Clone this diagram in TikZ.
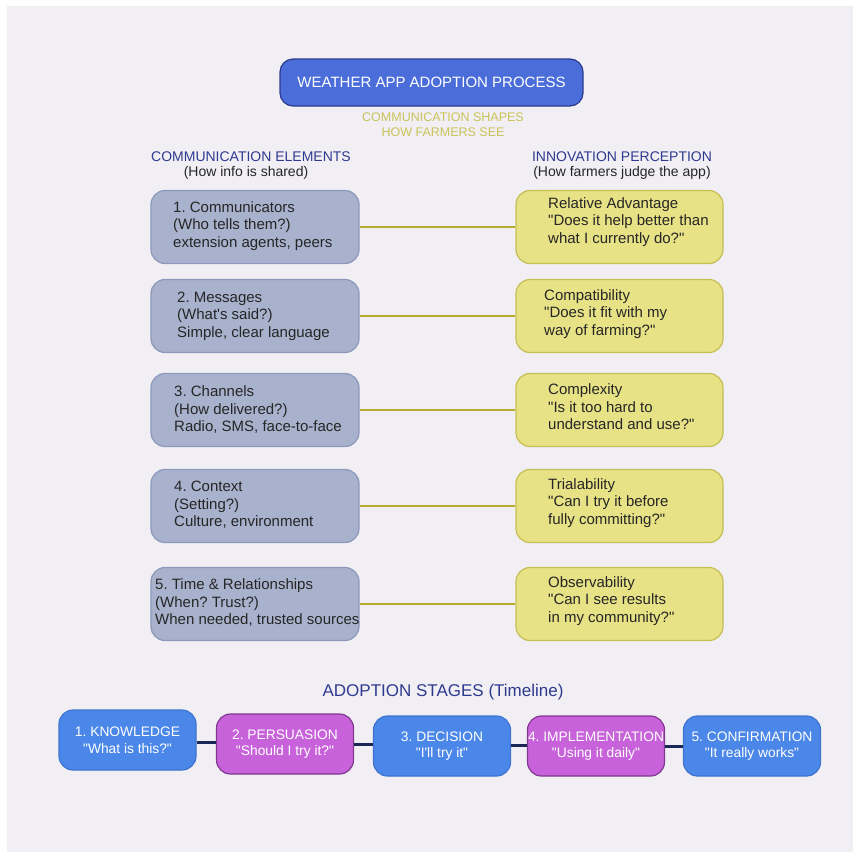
\documentclass[tikz,border=0pt]{standalone}
\usepackage{fontspec}
\setmainfont{Liberation Sans}[Ligatures=TeXOff]
\definecolor{bgc}{HTML}{F1EFF4}
\definecolor{titlefill}{HTML}{4A6DDA}
\definecolor{titleborder}{HTML}{2B3C8E}
\definecolor{yeltext}{HTML}{C9C35A}
\definecolor{navyhead}{HTML}{2E3A8F}
\definecolor{leftfill}{HTML}{A8B2CC}
\definecolor{leftborder}{HTML}{8C98BC}
\definecolor{rightfill}{HTML}{E7E286}
\definecolor{rightborder}{HTML}{C5BE52}
\definecolor{connc}{HTML}{B3AC2C}
\definecolor{stblue}{HTML}{4A87E8}
\definecolor{stblueb}{HTML}{3E74CF}
\definecolor{stmag}{HTML}{C862DA}
\definecolor{stmagb}{HTML}{7F3A8F}
\definecolor{stconn}{HTML}{1B2556}
\begin{document}
\frenchspacing
\begin{tikzpicture}[x=1pt,y=-1pt,
  leftbox/.style={draw=leftborder,fill=leftfill,line width=1.2pt,rounded corners=14pt,minimum width=208pt,minimum height=73pt,inner sep=0pt},
  rightbox/.style={draw=rightborder,fill=rightfill,line width=1.2pt,rounded corners=14pt,minimum width=207pt,minimum height=73pt,inner sep=0pt},
  boxtext/.style={anchor=west,align=left,inner sep=0pt,font=\fontsize{15}{17.5}\selectfont,text=black!85},
  headtext/.style={font=\fontsize{14}{16}\selectfont,text=navyhead,inner sep=0pt},
  subtext/.style={font=\fontsize{14}{16}\selectfont,text=black!85,inner sep=0pt},
  link/.style={draw=connc,line width=2pt},
  stage/.style={rounded corners=14pt,minimum width=137pt,minimum height=60pt,line width=1.2pt,inner sep=0pt,align=center,text=white,font=\fontsize{13.8}{16.5}\selectfont},
  stblue/.style={stage,fill=stblue,draw=stblueb},
  stmag/.style={stage,fill=stmag,draw=stmagb},
  stlink/.style={draw=stconn,line width=3pt}]
\fill[white] (0,0) rectangle (853,852);
\fill[bgc] (7,6) rectangle (853,852);
\useasboundingbox (0,0) rectangle (853,852);

\node[draw=titleborder,fill=titlefill,line width=1.2pt,rounded corners=13pt,minimum width=303pt,minimum height=47pt,text=white,font=\fontsize{15}{18}\selectfont] (title) at (431.5,82.5) {WEATHER APP ADOPTION PROCESS};
\node[text=yeltext,align=center,font=\fontsize{12.5}{15}\selectfont,inner sep=0pt] (shapes) at (443,124.5) {COMMUNICATION SHAPES\\HOW FARMERS SEE};

\node[headtext] (lh) at (251,157) {COMMUNICATION ELEMENTS};
\node[subtext] (ls) at (246,173) {(How info is shared)};
\node[headtext] (rh) at (622,157) {INNOVATION PERCEPTION};
\node[subtext] (rs) at (622,173) {(How farmers judge the app)};

% left boxes
\node[leftbox] (l1) at (255,227) {};
\node[leftbox] (l2) at (255,316) {};
\node[leftbox] (l3) at (255,410) {};
\node[leftbox] (l4) at (255,506) {};
\node[leftbox] (l5) at (255,604) {};
% right boxes
\node[rightbox] (r1) at (619.5,227) {};
\node[rightbox] (r2) at (619.5,316) {};
\node[rightbox] (r3) at (619.5,410) {};
\node[rightbox] (r4) at (619.5,506) {};
\node[rightbox] (r5) at (619.5,604) {};

\draw[link] (l1) -- (r1);
\draw[link] (l2) -- (r2);
\draw[link] (l3) -- (r3);
\draw[link] (l4) -- (r4);
\draw[link] (l5) -- (r5);

\node[boxtext] (lt1) at (173,226) {1. Communicators\\(Who tells them?)\\extension agents, peers};
\node[boxtext] (lt2) at (177,316) {2. Messages\\(What's said?)\\Simple, clear language};
\node[boxtext] (lt3) at (174,410) {3. Channels\\(How delivered?)\\Radio, SMS, face-to-face};
\node[boxtext] (lt4) at (174,505) {4. Context\\(Setting?)\\Culture, environment};
\node[boxtext] (lt5) at (155,603) {5. Time \& Relationships\\(When? Trust?)\\When needed, trusted sources};

\node[boxtext] (rt1) at (548,222) {Relative Advantage\\"Does it help better than\\what I currently do?"};
\node[boxtext] (rt2) at (544,314) {Compatibility\\"Does it fit with my\\way of farming?"};
\node[boxtext] (rt3) at (548,407) {Complexity\\"Is it too hard to\\understand and use?"};
\node[boxtext] (rt4) at (548,503) {Trialability\\"Can I try it before\\fully committing?"};
\node[boxtext] (rt5) at (548,601) {Observability\\"Can I see results\\in my community?"};

\node[font=\fontsize{17}{20}\selectfont,text=navyhead,inner sep=0pt] (stages) at (443,692) {ADOPTION STAGES (Timeline)};

\node[stblue] (s1) at (127.5,740) {1. KNOWLEDGE\\"What is this?"};
\node[stmag] (s2) at (285,744) {2. PERSUASION\\"Should I try it?"};
\node[stblue] (s3) at (442,746) {3. DECISION\\"I'll try it"};
\node[stmag] (s4) at (596,746) {4. IMPLEMENTATION\\"Using it daily"};
\node[stblue] (s5) at (752,746) {5. CONFIRMATION\\"It really works"};

\draw[stlink] (s1.east |- 0,742) -- (s2.west |- 0,742);
\draw[stlink] (s2.east |- 0,744) -- (s3.west |- 0,744);
\draw[stlink] (s3.east |- 0,745) -- (s4.west |- 0,745);
\draw[stlink] (s4.east |- 0,746) -- (s5.west |- 0,746);
\end{tikzpicture}
\end{document}
